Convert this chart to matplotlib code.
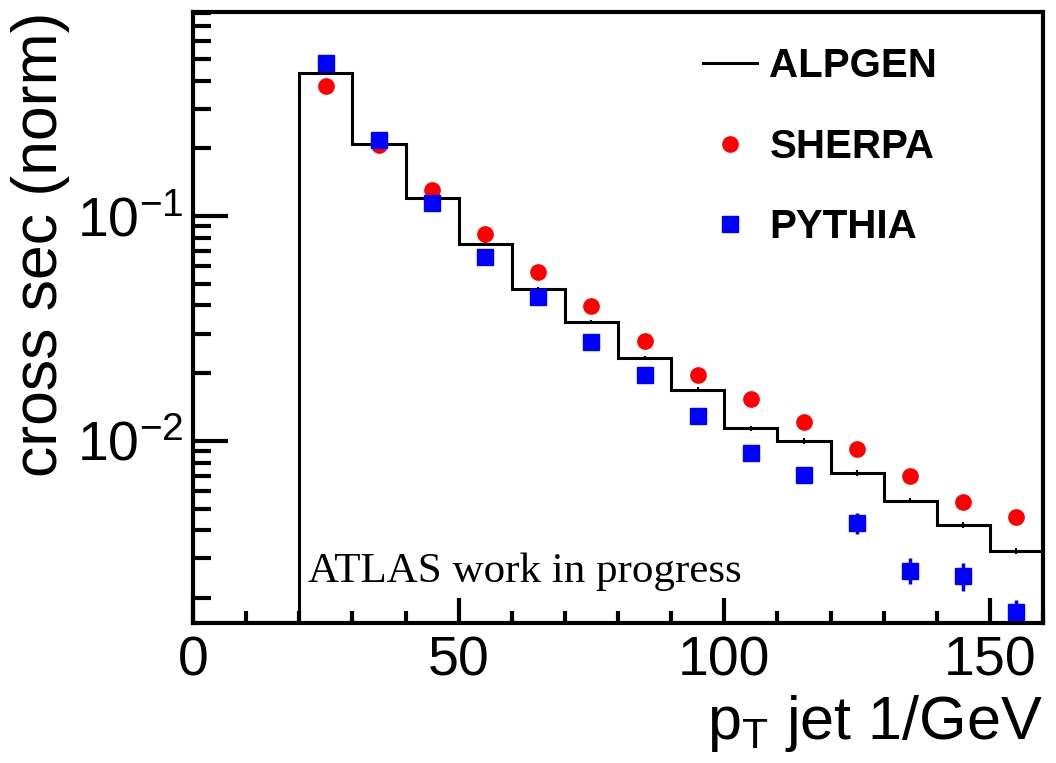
import matplotlib
matplotlib.use('Agg')
import matplotlib.pyplot as plt
import numpy as np

# bin edges in pT (GeV), 10 GeV bins
edges = np.arange(0, 170, 10)
centers = edges[:-1] + 5

alpgen = [0, 0, 0.433, 0.209, 0.120, 0.0751, 0.0474, 0.0338, 0.0234, 0.0169,
          0.0114, 0.0100, 0.00721, 0.00543, 0.00421, 0.00324]
alpgen_err = [0, 0, 0.006, 0.003, 0.002, 0.0012, 0.0008, 0.0006, 0.0005, 0.0004,
              0.0003, 0.0003, 0.0002, 0.00016, 0.00013, 0.0001]

sherpa_x = centers[2:]
sherpa = [0.378, 0.207, 0.130, 0.0832, 0.0564, 0.0398, 0.0278, 0.0196,
          0.0154, 0.0121, 0.0092, 0.0070, 0.00537, 0.00461]

pythia_x = centers[2:]
pythia = [0.479, 0.218, 0.114, 0.0658, 0.0436, 0.0275, 0.0196, 0.0129,
          0.00885, 0.00706, 0.00433, 0.00265, 0.00251, 0.00174]
pythia_err = [0.004, 0.002, 0.0012, 0.0008, 0.0006, 0.0004, 0.0003, 0.0002,
              0.00015, 0.00015, 0.00046, 0.00035, 0.00036, 0.00022]

ymin, ymax = 0.00155, 0.807

plt.rcParams['font.family'] = ['Liberation Sans', 'DejaVu Sans']
plt.rcParams['mathtext.fontset'] = 'custom'
plt.rcParams['mathtext.rm'] = 'Liberation Sans'
plt.rcParams['mathtext.it'] = 'Liberation Sans:italic'
plt.rcParams['mathtext.bf'] = 'Liberation Sans:bold'

fig = plt.figure(figsize=(10.56, 7.63), dpi=100)
ax = fig.add_axes([0.1828, 0.1835, 0.8049, 0.8008])
ax.set_yscale('log')

hist_vals = np.clip(np.array(alpgen), ymin * 1.01, None)
ax.stairs(hist_vals, edges, color='black', lw=2.2, baseline=None, label='ALPGEN')
ax.errorbar(centers[2:], alpgen[2:], yerr=alpgen_err[2:], fmt='none',
            ecolor='black', elinewidth=1.5)

ax.plot(sherpa_x, sherpa, 'o', color='#ff0000', ms=11, label='SHERPA')
ax.errorbar(pythia_x, pythia, yerr=pythia_err, fmt='none', ecolor='#0000ff',
            elinewidth=2.5, capsize=0)
ax.plot(pythia_x, pythia, 's', color='#0000ff', ms=11, label='PYTHIA')

ax.set_xlim(0, 160)
ax.set_ylim(ymin, ymax)

ax.set_xticks([0, 50, 100, 150])
ax.set_xticks(np.arange(0, 161, 10), minor=True)
ax.tick_params(axis='both', which='both', direction='in', top=False, right=False,
               labelsize=40, width=3)
ax.tick_params(axis='x', which='major', length=18, pad=9)
ax.tick_params(axis='x', which='minor', length=9)
ax.tick_params(axis='y', which='major', length=25, pad=7)
ax.tick_params(axis='y', which='minor', length=13)
for s in ax.spines.values():
    s.set_linewidth(3)

ax.set_xlabel('p$_{\\mathrm{T}}$ jet 1/GeV', fontsize=44, loc='right', labelpad=4)
ax.set_ylabel('cross sec (norm)', fontsize=45, loc='top')
ax.yaxis.set_label_coords(-0.145, 1.0)

ax.text(0.135, 0.067, 'ATLAS work in progress', transform=ax.transAxes,
        fontsize=31, family='Liberation Serif')

ax.legend(loc='upper left', bbox_to_anchor=(0.6, 0.942), frameon=False,
          prop={'weight': 'bold', 'size': 29}, handlelength=1.35,
          handletextpad=0.3, labelspacing=1.05, borderpad=0, borderaxespad=0)

fig.savefig('out.png', dpi=100)
